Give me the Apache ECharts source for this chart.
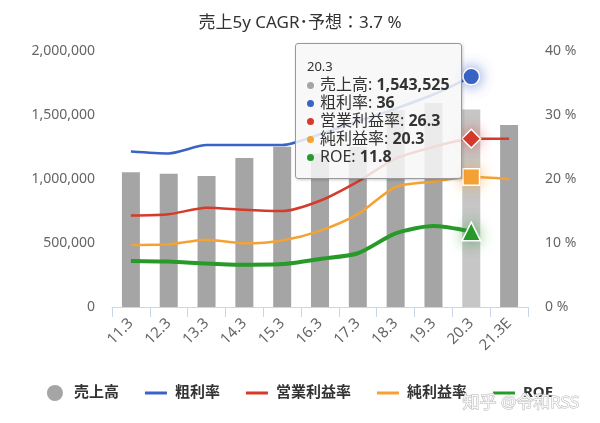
<!DOCTYPE html>
<html>
<head>
<meta charset="utf-8">
<script src="https://cdn.jsdelivr.net/npm/echarts@6/dist/echarts.min.js"></script>
<style>
  html, body { margin: 0; padding: 0; background: #fff; }
  #chart { width: 600px; height: 423px; }
</style>
</head>
<body>
<div id="chart"></div>
<script>
const categories = ['11.3', '12.3', '13.3', '14.3', '15.3', '16.3', '17.3', '18.3', '19.3', '20.3', '21.3E']
const sales = [1052000, 1041000, 1023000, 1164000, 1252000, 1200000, 1250000, 1539000, 1594000, 1543525, 1422000]
const grossMargin = [24.3, 24.0, 25.3, 25.3, 25.3, 27.0, 29.0, 31.0, 33.2, 36, null]
const operatingMargin = [14.3, 14.5, 15.5, 15.2, 15.0, 16.6, 19.6, 23.2, 25.0, 26.3, 26.3]
const netMargin = [9.7, 9.8, 10.5, 9.95, 10.4, 11.9, 14.5, 18.75, 19.6, 20.3, 20.0]
const roe = [7.2, 7.1, 6.8, 6.6, 6.7, 7.5, 8.4, 11.5, 12.65, 11.8, null]
const leftTicks = [0, 500000, 1000000, 1500000, 2000000]
const rightTicks = [0, 10, 20, 30, 40]

const focusIndex = 9
const font = "'Noto Sans', 'Noto Sans CJK JP', sans-serif"

// only the hovered point carries a marker
function markFocus(values, symbol, size, color, halo) {
  return values.map((v, i) => {
    if (i !== focusIndex) return v
    return {
      value: v,
      symbol: symbol,
      symbolSize: size,
      itemStyle: { color: color, borderColor: '#fff', borderWidth: 1.5, shadowColor: halo, shadowBlur: 14 },
    }
  })
}

function lineSeries(name, values, color, width, symbol, size, halo) {
  return {
    name: name,
    type: 'line',
    yAxisIndex: 1,
    smooth: 0.25,
    symbol: 'none',
    showSymbol: true,
    connectNulls: false,
    data: markFocus(values, symbol, size, color, halo),
    lineStyle: { width: width, color: color },
    itemStyle: { color: color },
    emphasis: { disabled: true },
    z: 3,
  }
}

const chart = echarts.init(document.getElementById('chart'), undefined, { renderer: 'canvas' })

chart.setOption({
  animation: false,
  backgroundColor: '#fff',
  textStyle: { fontFamily: font },
  title: {
    text: '売上5y CAGR･予想：3.7 %',
    left: 'center',
    top: 10,
    textStyle: { fontSize: 17, fontWeight: 'normal', color: '#333', fontFamily: font },
  },
  grid: { left: 112, right: 72, top: 51, bottom: 116 },
  tooltip: {
    trigger: 'axis',
    alwaysShowContent: true,
    transitionDuration: 0,
    axisPointer: { type: 'none' },
    position: [295, 43],
    backgroundColor: 'rgba(247,247,247,0.85)',
    borderColor: '#999',
    borderWidth: 1,
    padding: [13, 11],
    extraCssText: 'border-radius:3px;box-shadow:1px 1px 3px rgba(0,0,0,0.2);',
    formatter: (params) => {
      let html = '<div style="font-size:13px;line-height:18px;color:#333">' + params[0].axisValue + '</div>'
      params.forEach((p) => {
        const v = typeof p.value === 'object' && p.value !== null ? p.value.value : p.value
        if (v === null || v === undefined) return
        const color = p.seriesType === 'bar' ? '#a5a5a5' : p.color
        html += '<div style="font-size:16px;line-height:18px;color:#333;white-space:nowrap">' +
          '<span style="display:inline-block;width:7px;height:7px;border-radius:50%;background:' + color +
          ';margin-right:6px;vertical-align:middle"></span>' + p.seriesName + ': <b>' +
          Number(v).toLocaleString('en-US') + '</b></div>'
      })
      return html
    },
  },
  legend: {
    left: 'center',
    top: 380,
    itemWidth: 22,
    itemHeight: 16,
    itemGap: 26,
    textStyle: { fontSize: 15, fontWeight: 'bold', color: '#333', fontFamily: font, padding: [0, 0, 0, 3] },
    data: [
      { name: '売上高', icon: 'circle' },
      { name: '粗利率', icon: 'path://M0,0H22V3H0Z' },
      { name: '営業利益率', icon: 'path://M0,0H22V3H0Z' },
      { name: '純利益率', icon: 'path://M0,0H22V3H0Z' },
      { name: 'ROE', icon: 'path://M0,0H22V3H0Z' },
    ],
  },
  xAxis: {
    type: 'category',
    data: categories,
    boundaryGap: true,
    axisLine: { lineStyle: { color: '#ccd6eb' } },
    axisTick: { show: true, length: 10, lineStyle: { color: '#ccd6eb' } },
    axisLabel: { rotate: 45, color: '#666', fontSize: 15, margin: 14, fontFamily: font },
  },
  yAxis: [
    {
      type: 'value',
      min: leftTicks[0],
      max: leftTicks[leftTicks.length - 1],
      interval: leftTicks[1] - leftTicks[0],
      axisLine: { show: false },
      axisTick: { show: false },
      splitLine: { show: false },
      axisLabel: { color: '#666', fontSize: 14, margin: 17, formatter: (v) => v.toLocaleString('en-US') },
    },
    {
      type: 'value',
      min: rightTicks[0],
      max: rightTicks[rightTicks.length - 1],
      interval: rightTicks[1] - rightTicks[0],
      axisLine: { show: false },
      axisTick: { show: false },
      splitLine: { show: false },
      axisLabel: { color: '#666', fontSize: 14, margin: 17, formatter: '{value} %' },
    },
  ],
  series: [
    {
      name: '売上高',
      type: 'bar',
      barWidth: 18,
      data: sales.map((v, i) => (i === focusIndex ? { value: v, itemStyle: { color: '#c6c6c6' } } : v)),
      itemStyle: { color: '#a5a5a5' },
      emphasis: { disabled: true },
      z: 2,
    },
    lineSeries('粗利率', grossMargin, '#3a63c6', 2.5, 'circle', 15, 'rgba(58,99,198,0.7)'),
    lineSeries('営業利益率', operatingMargin, '#d53a2a', 2.5, 'diamond', 17, 'rgba(213,58,42,0.6)'),
    lineSeries('純利益率', netMargin, '#f4a234', 2.5, 'rect', 15, 'rgba(244,162,52,0.6)'),
    lineSeries('ROE', roe, '#279a2a', 4, 'triangle', 17, 'rgba(39,154,42,0.6)'),
  ],
  graphic: [
    {
      type: 'text',
      left: 462,
      top: 394,
      z: 100,
      style: {
        text: '知乎 @令和RSS',
        fontSize: 17,
        fontFamily: font,
        fill: 'rgba(255,255,255,0.85)',
        stroke: '#b8b8b8',
        lineWidth: 1,
      },
    },
  ],
})

chart.dispatchAction({ type: 'showTip', seriesIndex: 0, dataIndex: focusIndex })
</script>
</body>
</html>
